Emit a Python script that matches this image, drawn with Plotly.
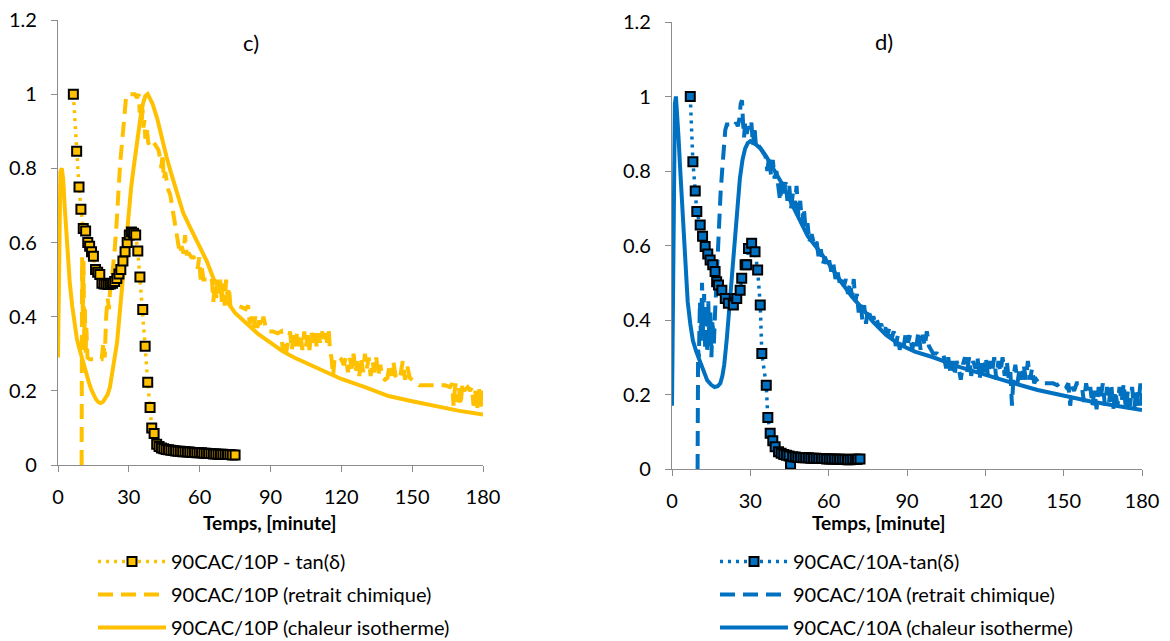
import plotly.graph_objects as go

GOLD = "#FFC000"
BLUE = "#0070C0"

# ---------------- left chart (c) : 90CAC/10P ----------------
tL_tan = [6.5, 7.9, 8.9, 9.7, 10.7, 11.7, 12.6, 13.4, 14.2, 15.0, 15.9, 16.8, 17.7, 18.6, 19.5,
          20.4, 21.3, 22.2, 23.1, 24.0, 24.9, 25.8, 26.6, 27.5, 28.4, 29.3, 30.2, 31.1, 32.0, 32.9,
          33.8, 34.7, 35.9, 36.9, 38.0, 39.0, 39.7, 40.7, 41.8, 42.8, 43.8, 44.8, 45.8, 46.8, 47.8,
          48.8, 49.8, 50.8, 51.8, 52.8, 53.8, 54.8, 55.8, 56.8, 57.8, 58.8, 59.8, 60.8, 61.8, 62.8,
          63.8, 64.8, 65.8, 66.8, 67.8, 68.8, 69.8, 70.8, 71.8, 72.8, 73.8, 75.0]
vL_tan = [1.0, 0.846, 0.75, 0.69, 0.638, 0.631, 0.60, 0.59, 0.575, 0.563, 0.527, 0.52, 0.514, 0.49, 0.488,
          0.488, 0.487, 0.488, 0.49, 0.495, 0.503, 0.515, 0.527, 0.55, 0.575, 0.60, 0.62, 0.628, 0.625, 0.62,
          0.577, 0.507, 0.419, 0.32, 0.223, 0.155, 0.10, 0.085, 0.056, 0.05, 0.046, 0.044, 0.042, 0.041, 0.040,
          0.039, 0.038, 0.037, 0.037, 0.036, 0.036, 0.035, 0.035, 0.034, 0.034, 0.033, 0.033, 0.033, 0.032, 0.032,
          0.031, 0.031, 0.030, 0.030, 0.029, 0.029, 0.029, 0.028, 0.028, 0.028, 0.027, 0.027]

tL_ret = [10.0, 10.2, 10.5, 10.8, 11.1, 11.4, 11.7, 12.0, 12.5, 13.5, 15.0, 17.0, 18.5, 19.2, 19.8,
          20.4, 21.0, 21.6, 22.2, 22.8, 23.4, 24.0, 24.6, 25.2, 25.8, 26.4, 27.0, 27.6, 28.2, 28.8,
          29.5, 31.0, 32.5, 33.5, 34.2, 34.6, 35.0, 35.4, 35.8, 36.2, 36.6, 37.0, 37.6, 38.2, 38.8,
          39.5, 40.5, 41.5, 42.5, 43.2, 43.8, 44.3, 44.8, 45.4, 46.0, 46.8, 47.5, 48.2, 48.8, 49.4,
          50.0, 50.8, 51.6, 52.4, 53.2, 53.8, 54.5, 55.5, 56.5, 57.5, 58.5, 59.2, 59.8, 60.4, 61.0,
          61.6, 62.5, 63.5, 64.5, 65.2, 65.8, 66.4, 67.0, 67.6, 68.2, 68.8, 69.4, 70.0, 70.6, 71.2,
          71.8, 72.4, 73.0, 74.0, 76.0, 78.0, 79.5, 80.5, 81.2, 82.0, 82.8, 83.6, 84.4, 85.2, 86.0,
          87.0, 88.0, 89.0, 91.0, 93.0, 94.5, 95.2, 95.8, 96.5, 97.5, 98.3, 99.0, 99.8, 100.5, 101.3,
          102.0, 102.8, 103.5, 104.3, 105.0, 105.8, 106.5, 107.3, 108.0, 108.8, 109.5, 110.3, 111.0, 111.8, 112.5,
          113.3, 114.0, 114.6, 115.2, 115.8, 116.5, 117.2, 118.0, 119.0, 120.0, 121.0, 122.0, 122.8, 123.6, 124.4,
          125.2, 126.0, 126.8, 127.6, 128.4, 129.2, 130.0, 130.8, 131.6, 132.4, 133.2, 134.0, 134.8, 135.6, 136.5,
          137.5, 138.5, 139.5, 140.5, 141.3, 142.0, 143.0, 144.0, 145.0, 146.0, 147.0, 148.0, 149.0, 150.0, 151.0,
          153.0, 156.0, 159.0, 162.0, 164.0, 166.0, 167.0, 167.5, 168.3, 169.0, 169.8, 170.5, 171.3, 172.0, 173.5,
          174.5, 175.3, 176.0, 176.8, 177.5, 178.3, 179.0, 179.6, 180.0]
vL_ret = [0.0, 0.56, 0.40, 0.55, 0.33, 0.42, 0.30, 0.37, 0.29, 0.285, 0.285, 0.285, 0.285, 0.33, 0.29,
          0.40, 0.45, 0.42, 0.49, 0.50, 0.53, 0.58, 0.63, 0.70, 0.77, 0.82, 0.86, 0.91, 0.96, 0.99,
          1.0, 1.0, 1.0, 0.99, 1.0, 0.95, 0.98, 0.92, 0.96, 0.91, 0.93, 0.88, 0.91, 0.87, 0.86,
          0.86, 0.87, 0.86, 0.85, 0.83, 0.80, 0.84, 0.77, 0.79, 0.76, 0.74, 0.73, 0.70, 0.68, 0.65,
          0.64, 0.60, 0.57, 0.59, 0.57, 0.62, 0.57, 0.57, 0.56, 0.56, 0.55, 0.53, 0.56, 0.50, 0.53,
          0.50, 0.50, 0.50, 0.49, 0.50, 0.44, 0.49, 0.45, 0.50, 0.46, 0.50, 0.44, 0.49, 0.43, 0.50,
          0.45, 0.48, 0.43, 0.43, 0.43, 0.425, 0.42, 0.43, 0.38, 0.40, 0.37, 0.40, 0.37, 0.39, 0.37,
          0.40, 0.37, 0.36, 0.36, 0.355, 0.36, 0.31, 0.33, 0.30, 0.33, 0.36, 0.31, 0.35, 0.32, 0.36,
          0.32, 0.35, 0.31, 0.36, 0.32, 0.35, 0.31, 0.36, 0.33, 0.36, 0.32, 0.355, 0.33, 0.36, 0.34,
          0.36, 0.33, 0.37, 0.31, 0.29, 0.24, 0.29, 0.29, 0.29, 0.285, 0.27, 0.29, 0.25, 0.29, 0.26,
          0.30, 0.25, 0.28, 0.24, 0.29, 0.25, 0.30, 0.26, 0.29, 0.24, 0.28, 0.25, 0.29, 0.24, 0.27,
          0.235, 0.23, 0.235, 0.27, 0.24, 0.28, 0.24, 0.23, 0.24, 0.28, 0.23, 0.265, 0.235, 0.23, 0.225,
          0.215, 0.215, 0.215, 0.215, 0.215, 0.21, 0.22, 0.16, 0.22, 0.17, 0.21, 0.16, 0.22, 0.20, 0.21,
          0.20, 0.21, 0.16, 0.20, 0.15, 0.21, 0.15, 0.21, 0.19]

tL_cha = [0.0, 0.3, 0.6, 1.0, 1.6, 2.2, 2.8, 3.5, 4.2, 5.0, 6.0, 7.0, 8.0, 9.0, 10.0,
          11.0, 12.0, 13.0, 14.0, 15.0, 16.0, 17.0, 18.0, 19.0, 20.0, 21.0, 22.0, 23.0, 24.0, 25.0,
          26.0, 27.0, 28.0, 29.0, 30.0, 31.0, 32.0, 33.0, 34.0, 35.0, 36.0, 37.0, 38.0, 39.0, 40.0,
          42.0, 44.0, 46.0, 48.0, 50.0, 53.0, 56.0, 60.0, 63.0, 66.0, 70.0, 75.0, 80.0, 85.0, 90.0,
          95.0, 100.0, 110.0, 120.0, 130.0, 140.0, 150.0, 160.0, 170.0, 180.0]
vL_cha = [0.29, 0.55, 0.72, 0.79, 0.80, 0.77, 0.70, 0.62, 0.55, 0.49, 0.43, 0.38, 0.34, 0.315, 0.29,
          0.27, 0.245, 0.225, 0.205, 0.19, 0.178, 0.17, 0.167, 0.17, 0.178, 0.19, 0.21, 0.245, 0.29, 0.33,
          0.40, 0.46, 0.55, 0.62, 0.69, 0.75, 0.80, 0.85, 0.90, 0.94, 0.975, 0.995, 1.0, 0.99, 0.975,
          0.935, 0.88, 0.83, 0.785, 0.74, 0.68, 0.64, 0.585, 0.55, 0.50, 0.455, 0.41, 0.38, 0.352, 0.33,
          0.307, 0.29, 0.26, 0.232, 0.21, 0.186, 0.172, 0.158, 0.146, 0.136]

# ---------------- right chart (d) : 90CAC/10A ----------------
tR_tan = [7.0, 8.0, 8.9, 9.5, 10.8, 11.7, 12.7, 13.7, 14.6, 15.6, 16.5, 17.1, 17.8, 19.1, 20.4,
          21.6, 23.5, 24.8, 26.1, 26.7, 28.0, 28.6, 29.3, 30.5, 31.8, 32.8, 33.8, 34.4, 36.1, 36.7,
          37.6, 38.6, 39.5, 40.8, 41.8, 42.8, 43.8, 44.8, 45.4, 46.2, 47.2, 48.2, 49.2, 50.2, 51.2,
          52.2, 53.2, 54.2, 55.2, 56.2, 57.2, 58.2, 59.2, 60.2, 61.2, 62.2, 63.2, 64.2, 65.2, 66.2,
          67.2, 68.2, 69.2, 70.2, 71.0, 72.0]
vR_tan = [1.0, 0.825, 0.746, 0.691, 0.655, 0.625, 0.597, 0.577, 0.561, 0.548, 0.53, 0.503, 0.494, 0.48, 0.458,
          0.445, 0.44, 0.458, 0.48, 0.512, 0.548, 0.548, 0.592, 0.606, 0.583, 0.534, 0.44, 0.31, 0.225, 0.138,
          0.096, 0.076, 0.06, 0.046, 0.042, 0.039, 0.037, 0.035, 0.013, 0.033, 0.032, 0.031, 0.031, 0.030, 0.030,
          0.030, 0.029, 0.029, 0.029, 0.028, 0.028, 0.028, 0.027, 0.027, 0.027, 0.027, 0.026, 0.026, 0.026, 0.026,
          0.025, 0.025, 0.026, 0.026, 0.026, 0.027]

tR_ret = [9.8, 10.0, 10.3, 10.7, 11.1, 11.5, 11.9, 12.3, 12.7, 13.1, 13.5, 13.9, 14.3, 14.7, 15.1,
          15.5, 16.0, 16.5, 17.0, 17.5, 18.0, 18.6, 19.2, 19.8, 20.4, 21.0, 22.0, 23.0, 24.0, 24.6,
          25.2, 25.8, 26.3, 26.8, 27.2, 27.6, 28.0, 28.6, 29.2, 29.8, 30.4, 31.0, 31.6, 32.2, 33.0,
          34.0, 35.0, 35.8, 36.5, 37.2, 37.9, 38.6, 39.3, 40.0, 40.7, 41.4, 42.1, 42.8, 43.5, 44.2,
          44.9, 45.6, 46.3, 47.0, 47.7, 48.4, 49.1, 49.8, 50.5, 51.2, 51.9, 52.6, 53.5, 54.5, 55.4,
          56.3, 57.0, 57.8, 58.6, 59.4, 60.2, 61.0, 61.8, 62.6, 63.4, 64.2, 65.0, 65.8, 66.6, 67.4,
          68.2, 69.0, 69.6, 70.2, 70.8, 71.5, 72.2, 72.9, 73.6, 74.3, 75.0, 75.7, 76.4, 77.1, 77.8,
          78.5, 79.3, 80.1, 80.9, 81.7, 82.5, 83.3, 84.1, 84.9, 85.7, 86.5, 87.2, 88.0, 88.8, 89.6,
          90.4, 91.2, 92.0, 92.8, 93.6, 94.4, 95.2, 96.0, 96.8, 97.6, 98.4, 99.2, 100.0, 101.5, 103.0,
          104.0, 105.0, 105.8, 106.6, 107.4, 108.2, 109.0, 109.8, 110.6, 111.4, 112.2, 113.0, 113.8, 114.6, 115.4,
          116.2, 117.0, 117.8, 118.6, 119.4, 120.2, 121.0, 121.8, 122.6, 123.4, 124.2, 125.0, 125.8, 126.6, 127.4,
          128.2, 129.0, 129.6, 130.2, 130.8, 131.5, 132.3, 133.1, 133.9, 134.7, 135.5, 136.3, 137.1, 137.9, 138.7,
          139.5, 140.5, 142.0, 144.0, 146.0, 147.5, 148.5, 150.0, 151.0, 151.8, 152.5, 153.2, 154.0, 155.0, 156.0,
          157.0, 157.8, 158.6, 159.4, 160.2, 161.0, 161.8, 162.6, 163.4, 164.2, 165.0, 165.8, 166.6, 167.4, 168.2,
          169.0, 169.8, 170.6, 171.4, 172.2, 173.0, 173.8, 174.6, 175.4, 176.2, 177.0, 177.8, 178.6, 179.4, 180.0]
vR_ret = [0.0, 0.32, 0.30, 0.45, 0.34, 0.50, 0.36, 0.47, 0.32, 0.44, 0.31, 0.45, 0.34, 0.42, 0.30,
          0.40, 0.33, 0.42, 0.50, 0.60, 0.66, 0.74, 0.80, 0.86, 0.91, 0.925, 0.925, 0.925, 0.92, 0.93,
          0.92, 0.94, 0.98, 0.99, 0.93, 0.89, 0.93, 0.90, 0.92, 0.91, 0.93, 0.87, 0.92, 0.86, 0.87,
          0.86, 0.85, 0.84, 0.80, 0.84, 0.79, 0.83, 0.78, 0.80, 0.76, 0.72, 0.77, 0.74, 0.77, 0.72,
          0.76, 0.70, 0.74, 0.70, 0.76, 0.68, 0.72, 0.66, 0.70, 0.64, 0.66, 0.61, 0.63, 0.60, 0.61,
          0.56, 0.59, 0.55, 0.57, 0.54, 0.56, 0.53, 0.55, 0.51, 0.53, 0.50, 0.52, 0.49, 0.51, 0.47,
          0.50, 0.46, 0.51, 0.45, 0.47, 0.42, 0.45, 0.40, 0.44, 0.39, 0.43, 0.41, 0.40, 0.41, 0.39,
          0.40, 0.38, 0.39, 0.37, 0.38, 0.36, 0.38, 0.35, 0.37, 0.33, 0.36, 0.32, 0.35, 0.33, 0.37,
          0.34, 0.36, 0.32, 0.35, 0.33, 0.37, 0.32, 0.36, 0.33, 0.37, 0.33, 0.32, 0.31, 0.31, 0.30,
          0.305, 0.27, 0.30, 0.26, 0.29, 0.25, 0.29, 0.27, 0.24, 0.28, 0.30, 0.26, 0.30, 0.25, 0.29,
          0.27, 0.30, 0.24, 0.29, 0.26, 0.30, 0.25, 0.29, 0.26, 0.30, 0.24, 0.29, 0.26, 0.30, 0.25,
          0.29, 0.24, 0.26, 0.17, 0.25, 0.28, 0.23, 0.27, 0.24, 0.28, 0.24, 0.29, 0.24, 0.27, 0.23,
          0.24, 0.23, 0.23, 0.23, 0.23, 0.225, 0.23, 0.23, 0.22, 0.23, 0.17, 0.22, 0.21, 0.23, 0.23,
          0.22, 0.18, 0.23, 0.20, 0.22, 0.17, 0.21, 0.16, 0.22, 0.19, 0.23, 0.17, 0.22, 0.18, 0.23,
          0.16, 0.21, 0.17, 0.22, 0.18, 0.23, 0.16, 0.21, 0.17, 0.22, 0.16, 0.21, 0.17, 0.23, 0.17]

tR_cha = [0.0, 0.3, 0.7, 1.1, 1.5, 2.0, 2.5, 3.1, 3.8, 4.5, 5.2, 6.0, 7.0, 8.0, 9.3,
          10.7, 12.1, 13.5, 15.0, 16.3, 17.5, 18.5, 19.3, 20.0, 21.0, 22.0, 23.0, 24.0, 25.0, 26.0,
          27.0, 28.0, 29.0, 30.0, 32.0, 34.0, 36.0, 38.0, 40.0, 43.0, 46.0, 49.0, 52.0, 55.0, 58.0,
          61.0, 65.0, 69.0, 73.0, 77.0, 82.0, 87.0, 93.0, 100.0, 110.0, 120.0, 130.0, 140.0, 150.0, 160.0,
          170.0, 180.0]
vR_cha = [0.17, 0.50, 0.85, 0.98, 1.0, 0.96, 0.89, 0.81, 0.72, 0.63, 0.52, 0.45, 0.39, 0.345, 0.315,
          0.29, 0.258, 0.238, 0.226, 0.22, 0.222, 0.23, 0.25, 0.28, 0.35, 0.44, 0.53, 0.62, 0.70, 0.78,
          0.83, 0.86, 0.875, 0.88, 0.872, 0.86, 0.84, 0.815, 0.794, 0.755, 0.71, 0.665, 0.625, 0.598, 0.57,
          0.542, 0.50, 0.462, 0.43, 0.395, 0.36, 0.335, 0.315, 0.30, 0.274, 0.252, 0.232, 0.212, 0.196, 0.182,
          0.17, 0.158]

names_L = ["90CAC/10P - tan(δ)", "90CAC/10P (retrait chimique)", "90CAC/10P (chaleur isotherme)"]
names_R = ["90CAC/10A-tan(δ)", "90CAC/10A (retrait chimique)", "90CAC/10A (chaleur isotherme)"]

fig = go.Figure()


def add_chart(col, xa, ya, leg, names, t_tan, v_tan, t_ret, v_ret, t_cha, v_cha):
    fig.add_trace(go.Scatter(x=t_cha, y=v_cha, mode="lines", name=names[2], legend=leg,
                             legendgroup=leg + "c", legendrank=3,
                             line=dict(color=col, width=4), xaxis=xa, yaxis=ya))
    fig.add_trace(go.Scatter(x=t_ret, y=v_ret, mode="lines", name=names[1], legend=leg,
                             legendgroup=leg + "b", legendrank=2,
                             line=dict(color=col, width=4, dash="15px,8px"), xaxis=xa, yaxis=ya))
    fig.add_trace(go.Scatter(x=t_tan, y=v_tan, mode="lines+markers", name=names[0], legend=leg,
                             legendgroup=leg + "a", legendrank=1,
                             line=dict(color=col, width=3.5, dash="3px,5px"),
                             marker=dict(symbol="square", size=9, color=col,
                                         line=dict(color="black", width=2)),
                             xaxis=xa, yaxis=ya))


add_chart(GOLD, "x", "y", "legend", names_L, tL_tan, vL_tan, tL_ret, vL_ret, tL_cha, vL_cha)
add_chart(BLUE, "x2", "y2", "legend2", names_R, tR_tan, vR_tan, tR_ret, vR_ret, tR_cha, vR_cha)

W, H = 1170, 641
FONT = "Lato"
axis_common = dict(showline=True, linecolor="#8c8c8c", linewidth=1.3, ticks="outside", ticklen=6,
                   tickcolor="#8c8c8c", tickwidth=1.3, showgrid=False, zeroline=False, automargin=False,
                   tickfont=dict(family=FONT, size=20, color="black"))
xcommon = dict(axis_common, range=[0, 180], tick0=0, dtick=30, ticklabelstandoff=8)
ycommon = dict(axis_common, range=[0, 1.2], tick0=0, dtick=0.2, ticklabelstandoff=10)

legend_common = dict(orientation="v", font=dict(family=FONT, size=20, color="black"),
                     itemwidth=68, tracegroupgap=4, bgcolor="rgba(0,0,0,0)",
                     traceorder="grouped", xanchor="left", yanchor="top")


def label(text, x, y, size, bold=False):
    return dict(text=("<b>%s</b>" % text) if bold else text, x=x / W, y=(H - y) / H,
                xref="paper", yref="paper", xanchor="center", yanchor="middle",
                showarrow=False, font=dict(family=FONT, size=size, color="black"))


fig.update_layout(
    width=W, height=H, margin=dict(l=0, r=0, t=0, b=0, pad=0, autoexpand=False),
    plot_bgcolor="white", paper_bgcolor="white",
    font=dict(family=FONT, size=20, color="black"),
    xaxis=dict(xcommon, domain=[58 / W, 483 / W], anchor="y"),
    yaxis=dict(ycommon, domain=[(H - 465) / H, (H - 20) / H], anchor="x"),
    xaxis2=dict(xcommon, domain=[672 / W, 1142 / W], anchor="y2"),
    yaxis2=dict(ycommon, domain=[(H - 469) / H, (H - 22) / H], anchor="x2"),
    legend=dict(legend_common, x=93 / W, y=(H - 542) / H),
    legend2=dict(legend_common, x=715 / W, y=(H - 542) / H),
    showlegend=True,
    annotations=[
        label("c)", 251, 43, 22),
        label("d)", 884, 42, 22),
        label("Temps, [minute]", 270, 522, 19, bold=True),
        label("Temps, [minute]", 879, 522, 19, bold=True),
    ],
)

fig.write_html("out.html", config={"displayModeBar": False},
               post_script="document.body.style.margin='0px';")
